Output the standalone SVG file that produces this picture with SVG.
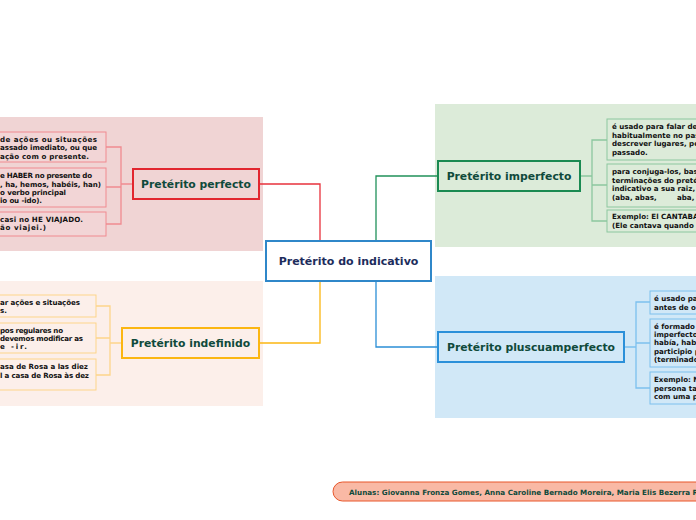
<svg xmlns="http://www.w3.org/2000/svg" width="696" height="520" viewBox="0 0 696 520">
<style>
.t{font-family:"DejaVu Sans",Verdana,sans-serif;font-weight:bold}
.main{font-size:10.8px;fill:#0f4a3b}
.sm{font-size:7.1px;fill:#111}
.c{fill:none;stroke-width:1.3}
</style>
<rect width="696" height="520" fill="#fff"/>
<rect x="0" y="117" width="263" height="134" fill="#f0d4d4"/>
<rect x="0" y="281" width="263" height="125" fill="#fcefea"/>
<rect x="435" y="104" width="261" height="143" fill="#dcebd9"/>
<rect x="435" y="276" width="261" height="142" fill="#d1e8f7"/>

<g id="connectors">
<path class="c" stroke="#e8323c" d="M259 184H320V241"/>
<path class="c" stroke="#fbb612" d="M259 343H320V281"/>
<path class="c" stroke="#20915a" d="M376 241V176H438"/>
<path class="c" stroke="#2b8fd6" d="M376 281V347H438"/>
<path class="c" stroke="#f08a90" d="M133 184H121M106 147H121V224H106M106 187H121"/>
<path class="c" stroke="#fdd58a" d="M122 343H110M96 306H110V375H96M96 338H110"/>
<path class="c" stroke="#8cc79f" d="M580 176H592M607 140H592V221H607M607 185H592"/>
<path class="c" stroke="#7cc0ee" d="M624 347H636M650 302H636V388H650M650 343H636"/>
</g>

<g id="center">
<rect x="266" y="241" width="165" height="40" fill="#fff" stroke="#2f87c9" stroke-width="2"/>
<text class="t" x="348.5" y="265" text-anchor="middle" font-size="11" fill="#1d2c5c">Pretérito do indicativo</text>
</g>

<g id="perfecto">
<rect x="133" y="169" width="126" height="30" fill="#f0d4d4" stroke="#e2262f" stroke-width="2"/>
<text class="t main" x="196" y="188" text-anchor="middle">Pretérito perfecto</text>
</g>
<g id="perfecto-1">
<rect x="-5" y="132" width="111" height="30" fill="#f2d5d6" stroke="#f08a90"/>
<text class="t sm" x="0" y="142" textLength="97" lengthAdjust="spacing">de ações ou situações</text>
<text class="t sm" x="0" y="150" textLength="97" lengthAdjust="spacing">assado imediato, ou que</text>
<text class="t sm" x="0" y="159" textLength="89" lengthAdjust="spacing">ação com o presente.</text>
</g>
<g id="perfecto-2">
<rect x="-5" y="168" width="111" height="39" fill="#f2d5d6" stroke="#f08a90"/>
<text class="t sm" x="0" y="178" textLength="92" lengthAdjust="spacing">e HABER no presente do</text>
<text class="t sm" x="0" y="187" textLength="101" lengthAdjust="spacing">, ha, hemos, habéis, han)</text>
<text class="t sm" x="0" y="195" textLength="66" lengthAdjust="spacing">o verbo principal</text>
<text class="t sm" x="0" y="203" textLength="42" lengthAdjust="spacing">io ou -ido).</text>
</g>
<g id="perfecto-3">
<rect x="-5" y="212" width="111" height="24" fill="#f2d5d6" stroke="#f08a90"/>
<text class="t sm" x="0" y="222" textLength="83" lengthAdjust="spacing">casi no HE VIAJADO.</text>
<text class="t sm" x="0" y="230" textLength="46" lengthAdjust="spacing">ão viajei.)</text>
</g>

<g id="indefinido">
<rect x="122" y="328" width="137" height="30" fill="#fcefea" stroke="#fbb612" stroke-width="2"/>
<text class="t main" x="190.5" y="347" text-anchor="middle">Pretérito indefinido</text>
</g>
<g id="indefinido-1">
<rect x="-5" y="295" width="101" height="22" fill="#fcefea" stroke="#fdd58a"/>
<text class="t sm" x="0" y="305" textLength="80" lengthAdjust="spacing">ar ações e situações</text>
<text class="t sm" x="0" y="313">s.</text>
</g>
<g id="indefinido-2">
<rect x="-5" y="323" width="101" height="30" fill="#fcefea" stroke="#fdd58a"/>
<text class="t sm" x="0" y="333" textLength="63" lengthAdjust="spacing">pos regulares no</text>
<text class="t sm" x="0" y="341" textLength="83" lengthAdjust="spacing">devemos modificar as</text>
<text class="t sm" x="0" y="349" textLength="27" lengthAdjust="spacing">e -ir.</text>
</g>
<g id="indefinido-3">
<rect x="-5" y="359" width="101" height="31" fill="#fcefea" stroke="#fdd58a"/>
<text class="t sm" x="0" y="369" textLength="88" lengthAdjust="spacing">asa de Rosa a las diez</text>
<text class="t sm" x="0" y="378" textLength="89" lengthAdjust="spacing">l a casa de Rosa às dez</text>
</g>

<g id="imperfecto">
<rect x="438" y="161" width="142" height="30" fill="#dcebd9" stroke="#1a8a52" stroke-width="2"/>
<text class="t main" x="509" y="180" text-anchor="middle">Pretérito imperfecto</text>
</g>
<g id="imperfecto-1">
<rect x="607" y="119" width="100" height="41" fill="#dcebd9" stroke="#8cc79f"/>
<text class="t sm" x="612" y="129">é usado para falar de</text>
<text class="t sm" x="612" y="138">habitualmente no pas</text>
<text class="t sm" x="612" y="146">descrever lugares, pe</text>
<text class="t sm" x="612" y="155">passado.</text>
</g>
<g id="imperfecto-2">
<rect x="607" y="164" width="100" height="43" fill="#dcebd9" stroke="#8cc79f"/>
<text class="t sm" x="612" y="174">para conjuga-los, bas</text>
<text class="t sm" x="612" y="183">terminações do pretér</text>
<text class="t sm" x="612" y="191">indicativo a sua raiz,</text>
<text class="t sm" x="612" y="200">(aba, abas,</text>
<text class="t sm" x="677" y="200">aba,</text>
</g>
<g id="imperfecto-3">
<rect x="607" y="210" width="100" height="22" fill="#dcebd9" stroke="#8cc79f"/>
<text class="t sm" x="612" y="219">Exemplo: El CANTABA</text>
<text class="t sm" x="612" y="228">(Ele cantava quando</text>
</g>

<g id="pluscuamperfecto">
<rect x="438" y="332" width="186" height="30" fill="#d1e8f7" stroke="#2b90d9" stroke-width="2"/>
<text class="t main" x="531" y="351" text-anchor="middle">Pretérito pluscuamperfecto</text>
</g>
<g id="plus-1">
<rect x="650" y="291" width="60" height="23" fill="#d1e8f7" stroke="#7cc0ee"/>
<text class="t sm" x="654" y="301">é usado pa</text>
<text class="t sm" x="654" y="310">antes de o</text>
</g>
<g id="plus-2">
<rect x="650" y="319" width="60" height="48" fill="#d1e8f7" stroke="#7cc0ee"/>
<text class="t sm" x="654" y="329">é formado</text>
<text class="t sm" x="654" y="337">imperfecto</text>
<text class="t sm" x="654" y="345">había, hab</text>
<text class="t sm" x="654" y="354">participio p</text>
<text class="t sm" x="654" y="362">(terminado</text>
</g>
<g id="plus-3">
<rect x="650" y="372" width="60" height="32" fill="#d1e8f7" stroke="#7cc0ee"/>
<text class="t sm" x="654" y="382">Exemplo: N</text>
<text class="t sm" x="654" y="391">persona ta</text>
<text class="t sm" x="654" y="399">com uma p</text>
</g>

<g id="alunas">
<rect x="333" y="482" width="380" height="19" rx="9.5" fill="#f9b9a5" stroke="#e8562a"/>
<text class="t" x="349" y="495" font-size="7.2" fill="#0f4a3b">Alunas: Giovanna Fronza Gomes, Anna Caroline Bernado Moreira, Maria Elis Bezerra Ram</text>
</g>
</svg>
